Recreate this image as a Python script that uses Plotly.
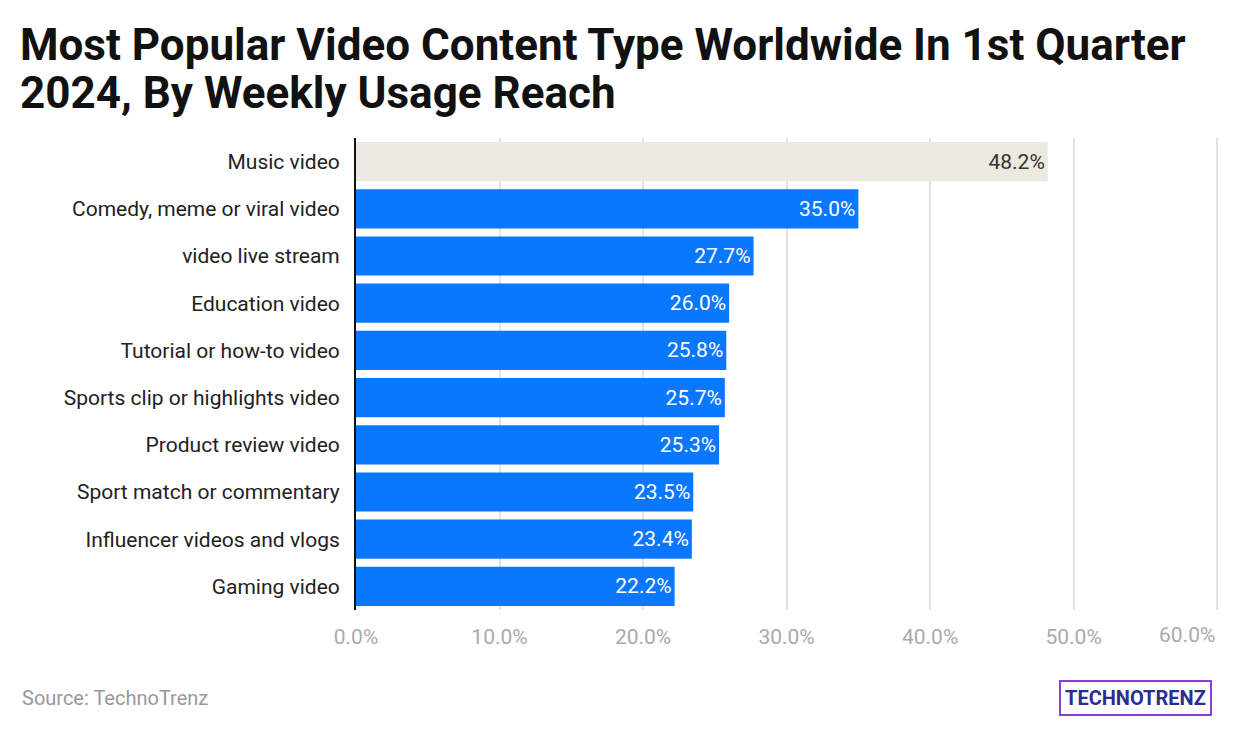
import plotly.graph_objects as go

categories = ["Music video", "Comedy, meme or viral video", "video live stream", "Education video",
              "Tutorial or how-to video", "Sports clip or highlights video", "Product review video",
              "Sport match or commentary", "Influencer videos and vlogs", "Gaming video"]
values = [48.2, 35.0, 27.7, 26.0, 25.8, 25.7, 25.3, 23.5, 23.4, 22.2]
tick_vals = [0, 10, 20, 30, 40, 50, 60]
tick_text = ["0.0%", "10.0%", "20.0%", "30.0%", "40.0%", "50.0%", "60.0%"]
title_lines = ["Most Popular Video Content Type Worldwide In 1st Quarter", "2024, By Weekly Usage Reach"]

colors = ["#ECE9E0"] + ["#0A77FF"] * (len(values) - 1)
text_colors = ["#333333"] + ["white"] * (len(values) - 1)

W, H = 1240, 734
OX, OY = 8, 10  # page offset compensation
L, R, T, B = 356 - OX, 20 + OX, 140 - OY, 122 + OY
pw, ph = W - L - R, H - T - B

def px(x): return (x - OX - L) / pw
def py(y): return (H - B - (y - OY)) / ph

fig = go.Figure(go.Bar(
    y=categories, x=values, orientation="h",
    marker=dict(color=colors, line=dict(width=0)),
    text=[f"{v:.1f}%" for v in values], textposition="inside", insidetextanchor="end",
    textfont=dict(size=21, color=text_colors, family="Roboto"),
    cliponaxis=False,
))
fig.update_layout(
    width=W, height=H, plot_bgcolor="white", paper_bgcolor="white",
    margin=dict(l=L, r=R, t=T, b=B, autoexpand=False),
    bargap=0.17, showlegend=False,
    font=dict(family="Roboto", color="#222222"),
    xaxis=dict(range=[0, 60.2], tickvals=tick_vals, ticktext=tick_text[:-1] + [""], showgrid=True,
               gridcolor="#E3E3E3", gridwidth=2, zeroline=False, automargin=False,
               tickfont=dict(size=21, color="#AAAAAA"), ticks="", ticklabelstandoff=12),
    yaxis=dict(autorange="reversed", showline=True, linecolor="#111111", linewidth=2,
               automargin=False,
               tickfont=dict(size=21, color="#222222"), ticks="", ticklabelstandoff=10),
)
fig.add_annotation(text=tick_text[-1], xref="x", yref="paper", x=tick_vals[-1], y=py(637),
                   xanchor="right", yanchor="middle", showarrow=False,
                   font=dict(size=21, color="#AAAAAA"))
for i, line in enumerate(title_lines):
    fig.add_annotation(text=f"<b>{line}</b>", xref="paper", yref="paper",
                       x=px(18), y=py(47 + 48 * i), xanchor="left", yanchor="middle",
                       align="left", showarrow=False,
                       font=dict(size=44, family="Roboto", color="#111111"))
fig.add_annotation(text="Source: TechnoTrenz", xref="paper", yref="paper",
                   x=px(20), y=py(700), xanchor="left", yanchor="middle", showarrow=False,
                   font=dict(size=20, color="#999999"))
fig.add_annotation(text="<b>TECHNOTRENZ</b>", xref="paper", yref="paper",
                   x=px(1212), y=py(700), xanchor="right", yanchor="middle", showarrow=False,
                   font=dict(size=20, color="#2B2E8F", family="Roboto"),
                   bordercolor="#8A3FD1", borderwidth=2, borderpad=4, bgcolor="white")
fig.write_html("out.html")
